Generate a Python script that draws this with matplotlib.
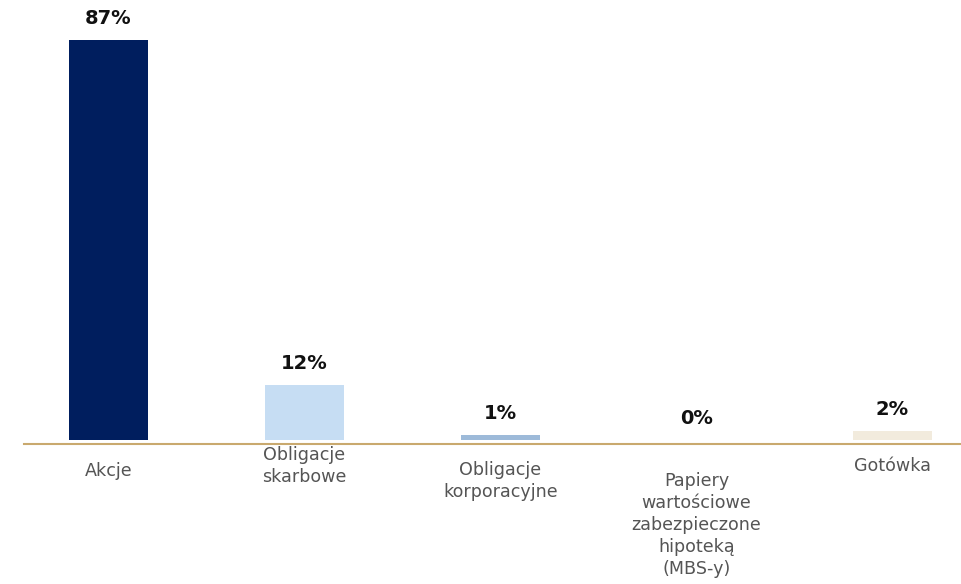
import matplotlib
matplotlib.use("Agg")
import matplotlib.pyplot as plt

# Data
categories = [
    "Akcje",
    "Obligacje\nskarbowe",
    "Obligacje\nkorporacyjne",
    "Papiery\nwartościowe\nzabezpieczone\nhipoteką\n(MBS-y)",
    "Gotówka",
]
values = [87, 12, 1, 0, 2]
value_labels = ["87%", "12%", "1%", "0%", "2%"]

colors = ["#001E5E", "#C6DDF3", "#9DBAD9", "#DDE7F2", "#F2EBDD"]
# distance (px) of each category label's top below the baseline
label_drop = [18, 2, 17, 28, 13]

plt.rcParams["font.family"] = ["DejaVu Sans"]

fig = plt.figure(figsize=(9.61, 5.84), dpi=100)
ax = fig.add_axes([24 / 961, (584 - 444) / 584, (961 - 24) / 961, 444 / 584])

x = list(range(len(categories)))
ax.bar(x, values, width=0.403, color=colors, bottom=0)

px_per_unit = 400 / 87
ax.set_ylim(-4 / px_per_unit, 444 / px_per_unit - 4 / px_per_unit)
ax.set_xlim((24 - 108.5) / 196, (961 - 108.5) / 196)

# value labels above the bars
for xi, v, lab in zip(x, values, value_labels):
    ax.annotate(lab, xy=(xi, v), xytext=(0, 12), textcoords="offset pixels",
                ha="center", va="bottom", fontsize=14, fontweight="bold",
                color="#111111")

# category labels under the baseline
for xi, cat, drop in zip(x, categories, label_drop):
    ax.annotate(cat, xy=(xi, 0), xycoords=("data", "axes fraction"),
                xytext=(0, -drop), textcoords="offset pixels",
                ha="center", va="top", fontsize=12.6, color="#555555",
                linespacing=1.28, annotation_clip=False)

for side in ["top", "left", "right"]:
    ax.spines[side].set_visible(False)
ax.spines["bottom"].set_color("#C9A96E")
ax.spines["bottom"].set_linewidth(1.5)
ax.set_xticks([])
ax.set_yticks([])

fig.savefig("out.png", dpi=100)
